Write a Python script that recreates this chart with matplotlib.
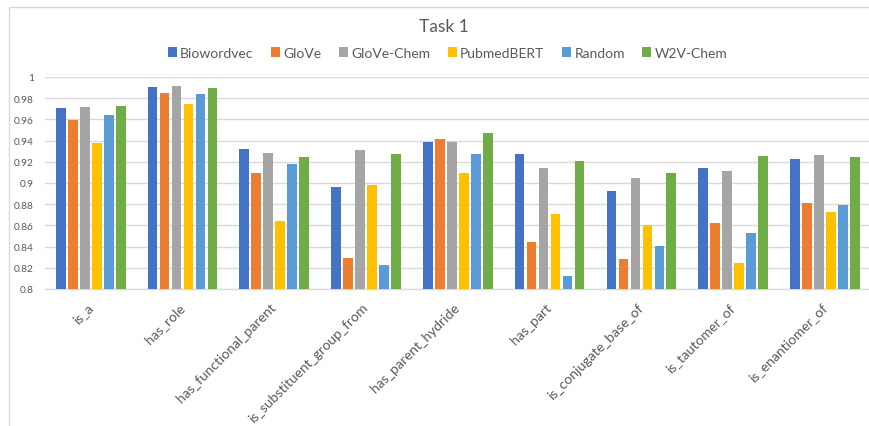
import matplotlib
matplotlib.use("Agg")
import matplotlib.pyplot as plt
import numpy as np
from matplotlib.patches import Rectangle

plt.rcParams['font.family'] = ['Lato', 'DejaVu Sans']

relations = ["is_a", "has_role", "has_functional_parent", "is_substituent_group_from",
             "has_parent_hydride", "has_part", "is_conjugate_base_of",
             "is_tautomer_of", "is_enantiomer_of"]

biowordvec = [0.9705, 0.9909, 0.9324, 0.8962, 0.9387, 0.9274, 0.8921, 0.9142, 0.9226]
glove = [0.9594, 0.9849, 0.9097, 0.8292, 0.9415, 0.8447, 0.8286, 0.8620, 0.8811]
glove_chem = [0.9714, 0.9915, 0.9280, 0.9311, 0.9390, 0.9145, 0.9047, 0.9113, 0.9261]
pubmedbert = [0.9377, 0.9748, 0.8642, 0.8981, 0.9094, 0.8704, 0.8604, 0.8245, 0.8726]
random_emb = [0.9645, 0.9840, 0.9180, 0.8223, 0.9270, 0.8123, 0.8403, 0.8531, 0.8792]
w2v_chem = [0.9723, 0.9896, 0.9249, 0.9270, 0.9475, 0.9208, 0.9094, 0.9255, 0.9245]

series_names = ["Biowordvec", "GloVe", "GloVe-Chem", "PubmedBERT", "Random", "W2V-Chem"]
series_values = [biowordvec, glove, glove_chem, pubmedbert, random_emb, w2v_chem]
colors = ["#4472C4", "#ED7D31", "#A5A5A5", "#FFC000", "#5B9BD5", "#70AD47"]

text_color = "#595959"
grid_color = "#D9D9D9"

W, H = 870, 427
fig = plt.figure(figsize=(W / 100, H / 100), dpi=100)

# outer chart frame
fig.patches.append(Rectangle((9 / W, -0.1), 1.2, 1 - 7.5 / H + 0.1, transform=fig.transFigure,
                             fill=False, edgecolor=grid_color, linewidth=1.0, zorder=0))

ax_left, ax_right = 44.8, 870.8
ax_top, ax_bottom = 78, 290
ax = fig.add_axes([ax_left / W, 1 - ax_bottom / H, (ax_right - ax_left) / W, (ax_bottom - ax_top) / H])

x = np.arange(len(relations))
slot = 12.0 / 91.8
bar_w = 9.7 / 91.8
n = len(series_names)
for i, (name, vals, col) in enumerate(zip(series_names, series_values, colors)):
    offs = (i - (n - 1) / 2) * slot
    ax.bar(x + offs, vals, width=bar_w, color=col, label=name, zorder=3)

ax.set_xlim(-0.5, len(relations) - 0.5)
ax.set_ylim(0.8, 1.0)
ticks = np.round(np.arange(0.8, 1.0001, 0.02), 2)
ax.set_yticks(ticks)
ax.set_yticklabels([f"{v:g}" for v in ticks])
ax.yaxis.grid(True, color=grid_color, linewidth=1.0, zorder=0)
ax.set_axisbelow(True)
for s in ["top", "right", "left"]:
    ax.spines[s].set_visible(False)
ax.spines["bottom"].set_color(grid_color)
ax.spines["bottom"].set_linewidth(1.0)
ax.tick_params(axis="both", length=0, colors=text_color)
ax.tick_params(axis="y", labelsize=7.3, pad=8)
ax.set_xticks(x)
ax.set_xticklabels(relations, rotation=45, ha="right", va="center",
                   rotation_mode="anchor", fontsize=10, color=text_color)
ax.tick_params(axis="x", pad=11.5)

fig.text(444 / W, 1 - 27 / H, "Task 1", ha="center", va="center", fontsize=12.5,
         color=text_color)

fig.legend(loc="center", bbox_to_anchor=(447.5 / W, 1 - 54 / H), ncol=6, frameon=False,
           prop={"size": 10}, handlelength=0.65, handleheight=0.7,
           handletextpad=0.25, columnspacing=1.25, labelcolor=text_color, borderaxespad=0)

fig.savefig("out.png", dpi=100)
